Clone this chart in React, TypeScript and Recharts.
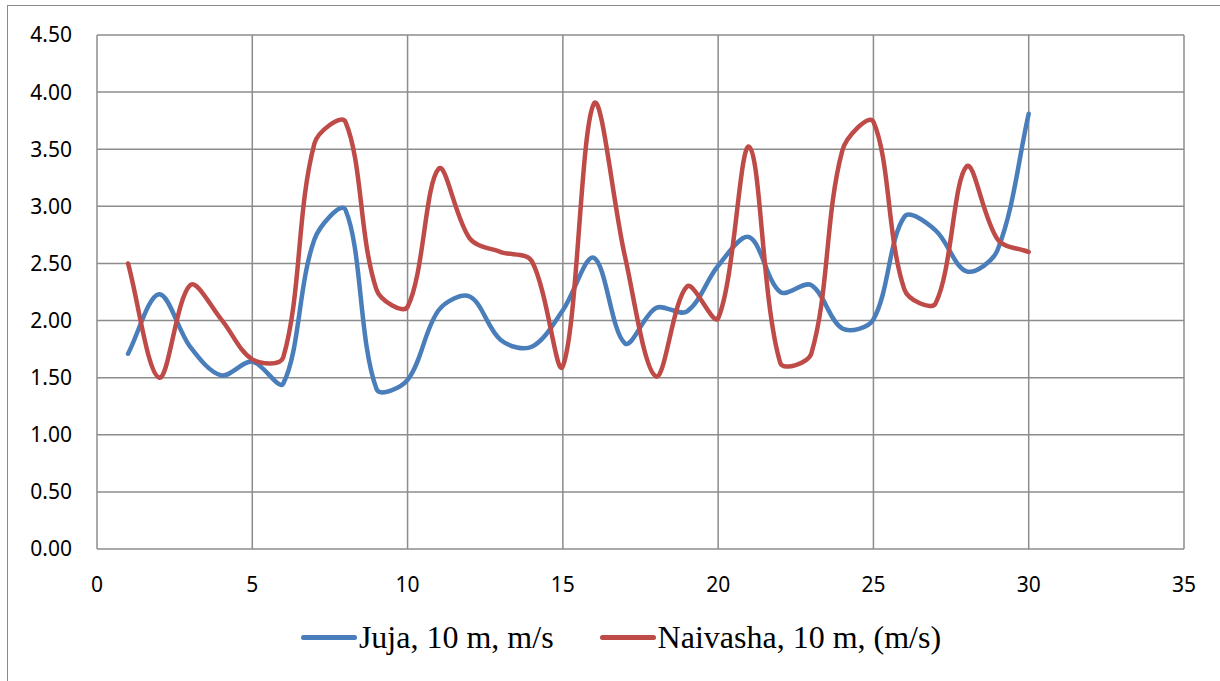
import React from 'react';
import { LineChart, Line, XAxis, YAxis, CartesianGrid, Legend } from 'recharts';

const days = [1, 2, 3, 4, 5, 6, 7, 8, 9, 10, 11, 12, 13, 14, 15, 16, 17, 18, 19, 20, 21, 22, 23, 24, 25, 26, 27, 28, 29, 30];
const juja = [1.71, 2.23, 1.77, 1.52, 1.64, 1.45, 2.71, 2.97, 1.40, 1.48, 2.09, 2.21, 1.83, 1.77, 2.09, 2.55, 1.80, 2.11, 2.08, 2.48, 2.73, 2.25, 2.31, 1.93, 2.01, 2.91, 2.79, 2.43, 2.62, 3.81];
const naivasha = [2.50, 1.50, 2.31, 2.01, 1.66, 1.68, 3.55, 3.74, 2.27, 2.12, 3.33, 2.72, 2.60, 2.52, 1.60, 3.90, 2.56, 1.51, 2.30, 2.02, 3.52, 1.63, 1.71, 3.49, 3.74, 2.27, 2.15, 3.35, 2.71, 2.60];
const xTicks = [0, 5, 10, 15, 20, 25, 30, 35];
const yTicks = [0, 0.5, 1, 1.5, 2, 2.5, 3, 3.5, 4, 4.5];

const series = [
  { key: 'juja', name: 'Juja, 10 m, m/s', color: '#4A7EBB' },
  { key: 'naivasha', name: 'Naivasha, 10 m, (m/s)', color: '#BE4B48' },
];

const data = days.map((d, i) => ({ day: d, juja: juja[i], naivasha: naivasha[i] }));

// Excel-style smoothing: cardinal spline with tangents weighted by segment length
const smoothCurve = (ctx: any) => {
  let pts: number[][] = [];
  const dist = (a: number[], b: number[]) => Math.hypot(b[0] - a[0], b[1] - a[1]) || 1;
  return {
    areaStart() {},
    areaEnd() {},
    lineStart() {
      pts = [];
    },
    point(x: number, y: number) {
      pts.push([+x, +y]);
    },
    lineEnd() {
      if (!pts.length) return;
      ctx.moveTo(pts[0][0], pts[0][1]);
      const n = pts.length;
      for (let i = 0; i < n - 1; i++) {
        const p0 = pts[Math.max(i - 1, 0)];
        const p1 = pts[i];
        const p2 = pts[i + 1];
        const p3 = pts[Math.min(i + 2, n - 1)];
        const d01 = i > 0 ? dist(p0, p1) : 0;
        const d12 = dist(p1, p2);
        const d23 = i + 2 < n ? dist(p2, p3) : 0;
        const f1 = d12 / (d01 + d12) / 3;
        const f2 = d12 / (d12 + d23) / 3;
        ctx.bezierCurveTo(
          p1[0] + (p2[0] - p0[0]) * f1,
          p1[1] + (p2[1] - p0[1]) * f1,
          p2[0] - (p3[0] - p1[0]) * f2,
          p2[1] - (p3[1] - p1[1]) * f2,
          p2[0],
          p2[1]
        );
      }
    },
  };
};

const LegendContent = () => (
  <div style={{ display: 'flex', justifyContent: 'center', alignItems: 'center', fontFamily: '"Liberation Serif", serif', fontSize: 32, color: '#000' }}>
    {series.map((s, i) => (
      <div key={s.key} style={{ display: 'flex', alignItems: 'center', marginLeft: i ? 46 : 0 }}>
        <span style={{ display: 'inline-block', width: 56, height: 5, borderRadius: 3, background: s.color, marginRight: 2 }} />
        <span>{s.name}</span>
      </div>
    ))}
  </div>
);

const tickStyle = { fontFamily: '"Noto Sans", sans-serif', fontSize: 21, fill: '#000' };

export default function App() {
  return (
    <div style={{ position: 'fixed', left: 0, top: 0, width: 1220, height: 681, overflow: 'hidden', background: '#fff' }}>
      <div style={{ position: 'absolute', left: 7, top: 5, width: 1240, height: 700, border: '1.5px solid #8a8a8a' }} />
      <div style={{ position: 'absolute', left: 0, top: 0 }}>
        <LineChart width={1220} height={681} data={data} margin={{ top: 35, right: 36, left: 0, bottom: 82 }}>
          <CartesianGrid stroke="#8c8c8c" strokeWidth={1.5} />
          <XAxis
            dataKey="day"
            type="number"
            domain={[0, 35]}
            ticks={xTicks}
            height={50}
            axisLine={false}
            tickLine={false}
            tickSize={0}
            tickMargin={28}
            tick={tickStyle}
            interval={0}
          />
          <YAxis
            type="number"
            domain={[0, 4.5]}
            ticks={yTicks}
            width={97}
            axisLine={false}
            tickLine={false}
            tickSize={0}
            tickMargin={25}
            tick={tickStyle}
            tickFormatter={(v: number) => v.toFixed(2)}
            interval={0}
          />
          <Legend
            verticalAlign="middle"
            align="center"
            content={<LegendContent />}
            wrapperStyle={{ top: 619, left: 0, width: 1242, height: 44 }}
          />
          {series.map((s) => (
            <Line
              key={s.key}
              dataKey={s.key}
              name={s.name}
              type={smoothCurve as any}
              stroke={s.color}
              strokeWidth={4.5}
              strokeLinecap="round"
              dot={false}
              isAnimationActive={false}
            />
          ))}
        </LineChart>
      </div>
    </div>
  );
}
